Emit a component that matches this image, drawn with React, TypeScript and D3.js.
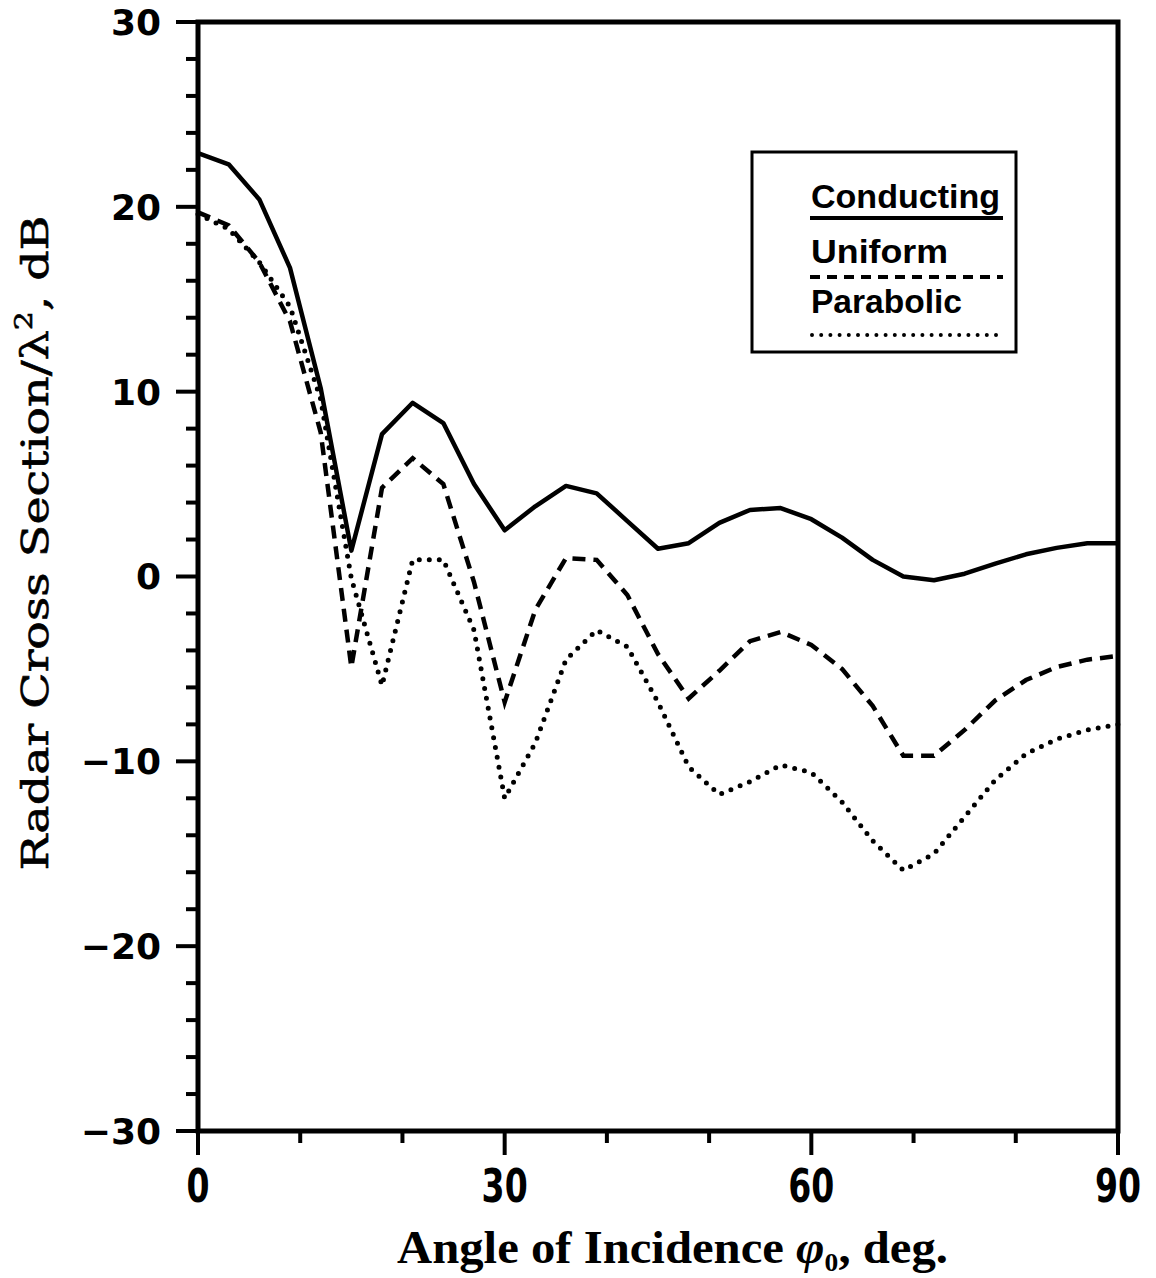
import React from "react";
import * as d3 from "d3";

const angles = [0, 3, 6, 9, 12, 15, 18, 21, 24, 27, 30, 33, 36, 39, 42, 45, 48, 51, 54, 57, 60, 63, 66, 69, 72, 75, 78, 81, 84, 87, 90];
const conducting = [22.9, 22.3, 20.4, 16.7, 10.2, 1.4, 7.7, 9.4, 8.3, 5.0, 2.5, 3.8, 4.9, 4.5, 3.0, 1.5, 1.8, 2.9, 3.6, 3.7, 3.1, 2.1, 0.9, 0.0, -0.2, 0.15, 0.7, 1.2, 1.55, 1.8, 1.8];
const uniform = [19.7, 19.0, 17.0, 13.8, 7.8, -4.9, 4.8, 6.4, 5.0, -0.3, -6.8, -1.8, 1.0, 0.9, -1.0, -4.2, -6.6, -5.1, -3.5, -3.0, -3.7, -5.0, -7.0, -9.7, -9.7, -8.3, -6.7, -5.6, -4.9, -4.5, -4.3];
const parabolic = [19.6, 18.8, 17.0, 14.6, 9.6, -0.1, -5.9, 0.9, 0.9, -2.9, -12.0, -9.0, -4.5, -2.9, -3.8, -6.8, -10.3, -11.8, -11.1, -10.2, -10.6, -12.2, -14.3, -15.9, -15.0, -13.0, -11.0, -9.6, -8.8, -8.3, -8.0];

const xMajor = [0, 30, 60, 90];
const xMinor = [10, 20, 40, 50, 70, 80];
const yMajor = [-30, -20, -10, 0, 10, 20, 30];
const yMinor = [-28, -26, -24, -22, -18, -16, -14, -12, -8, -6, -4, -2, 2, 4, 6, 8, 12, 14, 16, 18, 22, 24, 26, 28];
const legendNames = ["Conducting", "Uniform", "Parabolic"];

const W = 1156, H = 1278;
const left = 198, right = 1118, top = 22, bottom = 1131;

export default function App() {
  const x = d3.scaleLinear().domain([0, 90]).range([left, right]);
  const y = d3.scaleLinear().domain([-30, 30]).range([bottom, top]);
  const line = d3.line<number>().x((_, i) => x(angles[i])).y((d) => y(d));

  const tickFont = "'DejaVu Sans', 'Liberation Sans', sans-serif";
  const legendY = [208, 263, 313];
  const legendLen = [189, 137, 151];
  const legendLineY = [218, 277, 335];

  return (
    <svg width={W} height={H} style={{ position: "absolute", left: 0, top: 0, background: "#fff" }}>
      <rect x={0} y={0} width={W} height={H} fill="#fff" />
      {/* data lines */}
      <g fill="none" stroke="#000">
        <path d={line(conducting) || ""} strokeWidth={4.5} strokeLinejoin="round" />
        <path d={line(uniform) || ""} strokeWidth={4.5} strokeDasharray="13 8" />
        <path d={line(parabolic) || ""} strokeWidth={5} strokeDasharray="0 10" strokeLinecap="round" />
      </g>
      {/* frame */}
      <rect x={left} y={top} width={right - left} height={bottom - top} fill="none" stroke="#000" strokeWidth={5} />
      {/* ticks */}
      <g stroke="#000" strokeWidth={4}>
        {yMajor.map((v) => (
          <line key={"ym" + v} x1={176} x2={left} y1={y(v)} y2={y(v)} />
        ))}
        {yMinor.map((v) => (
          <line key={"yn" + v} x1={186} x2={left} y1={y(v)} y2={y(v)} />
        ))}
        {xMajor.map((v) => (
          <line key={"xm" + v} x1={x(v)} x2={x(v)} y1={bottom} y2={1155} />
        ))}
        {xMinor.map((v) => (
          <line key={"xn" + v} x1={x(v)} x2={x(v)} y1={bottom} y2={1143} />
        ))}
      </g>
      {/* y tick labels */}
      <g fontFamily={tickFont} fontWeight="bold" fontSize={36} fill="#000">
        {yMajor.map((v) => (
          <text key={"yl" + v} x={161} y={y(v)} dy="0.36em" textAnchor="end">
            {v < 0 ? "\u2212" + Math.abs(v) : String(v)}
          </text>
        ))}
      </g>
      {/* x tick labels */}
      <g fontFamily={tickFont} fontWeight="bold" fontSize={46} fill="#000">
        {xMajor.map((v) => (
          <text key={"xl" + v} transform={`translate(${x(v)},1202) scale(0.72,1)`} textAnchor="middle">
            {String(v)}
          </text>
        ))}
      </g>
      {/* x axis title */}
      <text
        x={397}
        y={1263}
        fontFamily="'Liberation Serif', 'DejaVu Serif', serif"
        fontWeight="bold"
        fontSize={46}
        textLength={551}
        lengthAdjust="spacingAndGlyphs"
        fill="#000"
      >
        Angle of Incidence <tspan fontStyle="italic">φ</tspan>
        <tspan fontSize={26} dy={8}>0</tspan>
        <tspan dy={-8}>, deg.</tspan>
      </text>
      {/* y axis title */}
      <text
        transform="translate(48,543) rotate(-90)"
        x={0}
        y={0}
        textAnchor="middle"
        fontFamily="'DejaVu Serif', 'Liberation Serif', serif"
        fontSize={38}
        textLength={655}
        lengthAdjust="spacingAndGlyphs"
        fill="#000"
        stroke="#000"
        strokeWidth={0.6}
      >
        Radar Cross Section/λ<tspan fontSize={24} dy={-16}>2</tspan>
        <tspan dy={16}>, dB</tspan>
      </text>
      {/* legend */}
      <rect x={752} y={152} width={264} height={200} fill="#fff" stroke="#000" strokeWidth={3} />
      <g fontFamily="'Liberation Sans', Arial, sans-serif" fontWeight="bold" fontSize={33} fill="#000">
        {legendNames.map((n, i) => (
          <text key={n} x={811} y={legendY[i]} textLength={legendLen[i]} lengthAdjust="spacingAndGlyphs">
            {n}
          </text>
        ))}
      </g>
      <line x1={810} x2={1003} y1={legendLineY[0]} y2={legendLineY[0]} stroke="#000" strokeWidth={4} />
      <line x1={810} x2={1003} y1={legendLineY[1]} y2={legendLineY[1]} stroke="#000" strokeWidth={4} strokeDasharray="10 7" />
      <line x1={812} x2={1002} y1={legendLineY[2]} y2={legendLineY[2]} stroke="#000" strokeWidth={4} strokeDasharray="0 9.2" strokeLinecap="round" />
    </svg>
  );
}
